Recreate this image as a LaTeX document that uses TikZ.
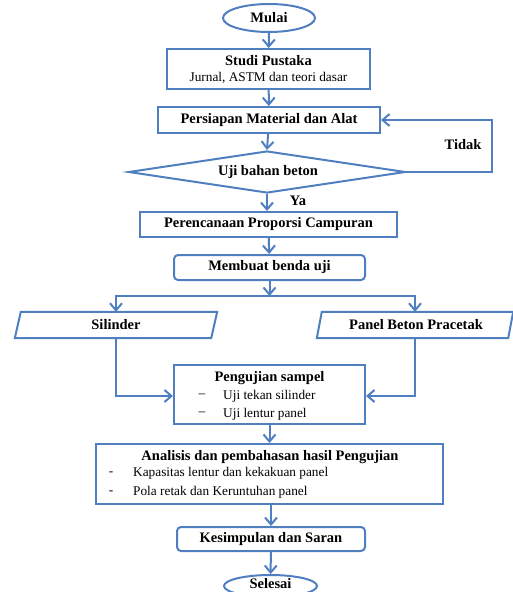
\documentclass[tikz,border=0pt]{standalone}
\usepackage{fontspec}
\setmainfont{Liberation Serif}
\usetikzlibrary{arrows.meta,shapes.geometric}
\definecolor{fblue}{HTML}{4F7FC0}
\tikzset{
  ln/.style={draw=fblue, line width=2pt},
  arr/.style={ln, -{Straight Barb[length=7pt,width=12pt]}},
  boxn/.style={ln, rectangle, inner sep=0pt},
  rboxn/.style={ln, rectangle, rounded corners=4pt, inner sep=0pt},
  ovaln/.style={ln, ellipse, inner sep=0pt},
  bt/.style={font=\fontsize{14.5}{16}\selectfont\bfseries, inner sep=0pt},
  rt/.style={font=\fontsize{13.3}{15}\selectfont, inner sep=0pt},
}
\begin{document}
\begin{tikzpicture}[x=1pt,y=-1pt]
\useasboundingbox (0,0) rectangle (512,592);
% start
\node[ovaln, minimum width=92pt, minimum height=28pt] (mulai) at (269,18) {};
\node[bt] (tmulai) at (269,18) {Mulai};
% studi
\node[boxn, minimum width=203pt, minimum height=40pt] (studi) at (268.5,69) {};
\node[bt] (tstudi) at (268.5,61) {Studi Pustaka};
\node[rt] (tstudi2) at (268.5,78) {Jurnal, ASTM dan teori dasar};
% persiapan
\node[boxn, minimum width=222pt, minimum height=26pt] (pers) at (269,120) {};
\node[bt] (tpers) at (269,120) {Persiapan Material dan Alat};
% diamond
\node[ln, diamond, aspect=6.6, minimum width=277pt, minimum height=42pt, inner sep=0pt] (uji) at (267,172) {};
\node[bt] (tuji) at (268,172) {Uji bahan beton};
\node[bt] (tidak) at (463,145) {Tidak};
\node[bt] (ya) at (298,201) {Ya};
% perencanaan
\node[boxn, minimum width=257pt, minimum height=25pt] (pren) at (268.5,224.5) {};
\node[bt] (tpren) at (268.5,224.5) {Perencanaan Proporsi Campuran};
% membuat
\node[rboxn, minimum width=191pt, minimum height=25pt] (buat) at (269.5,267.5) {};
\node[bt] (tbuat) at (269.5,267.5) {Membuat benda uji};
% branches
\node[minimum width=196pt, minimum height=26pt, inner sep=0pt] (sil) at (116,325) {};
\draw[ln] ([xshift=3pt]sil.north west) -- ([xshift=3pt]sil.north east) -- ([xshift=-3pt]sil.south east) -- ([xshift=-3pt]sil.south west) -- cycle;
\node[bt] (tsil) at (116,325) {Silinder};
\node[minimum width=191pt, minimum height=26pt, inner sep=0pt] (pan) at (415,325) {};
\draw[ln] ([xshift=2.5pt]pan.north west) -- ([xshift=2.5pt]pan.north east) -- ([xshift=-2.5pt]pan.south east) -- ([xshift=-2.5pt]pan.south west) -- cycle;
\node[bt] (tpan) at (416,325) {Panel Beton Pracetak};
% pengujian
\node[boxn, minimum width=191pt, minimum height=59pt] (peng) at (269.5,394.5) {};
\node[bt] (tpeng) at (269.5,378) {Pengujian sampel};
\node[rt] (d1) at (202,396) {--};
\node[rt, anchor=west] (i1) at (223,396) {Uji tekan silinder};
\node[rt] (d2) at (202,414) {--};
\node[rt, anchor=west] (i2) at (223,414) {Uji lentur panel};
% analisis
\node[boxn, minimum width=347pt, minimum height=60pt] (ana) at (269.5,474) {};
\node[bt] (tana) at (270,457) {Analisis dan pembahasan hasil Pengujian};
\node[rt] (e1) at (111,474) {-};
\node[rt, anchor=west] (j1) at (133,473) {Kapasitas lentur dan kekakuan panel};
\node[rt] (e2) at (111,493) {-};
\node[rt, anchor=west] (j2) at (133,492) {Pola retak dan Keruntuhan panel};
% kesimpulan
\node[rboxn, minimum width=188pt, minimum height=24pt] (kes) at (271,539) {};
\node[bt] (tkes) at (271,539) {Kesimpulan dan Saran};
% end
\node[ovaln, minimum width=93pt, minimum height=22pt] (sel) at (270.5,586) {};
\node[bt] (tsel) at (270.5,584) {Selesai};
% connectors
\draw[arr] (mulai) -- (studi);
\draw[arr] (studi) -- (pers);
\draw[arr] (pers) -- (uji.north);
\draw[arr] (uji.east) -- ++(85,0) |- (pers.east);
\draw[arr] (uji.south) -- (pren.north -| uji.south);
\draw[arr] (pren) -- (buat);
\coordinate (jn) at (269.5,296);
\draw[arr] (buat) -- (jn);
\draw[arr] (jn) -| (sil.north);
\draw[arr] (jn) -| (pan.north);
\draw[arr] (sil.south) |- ([yshift=-1.5pt]peng.west);
\draw[arr] (pan.south) |- ([yshift=-1.5pt]peng.east);
\draw[arr] (peng) -- (ana);
\draw[arr] (ana.south -| kes.north) -- (kes.north);
\draw[arr] (kes) -- (sel);
\end{tikzpicture}
\end{document}
